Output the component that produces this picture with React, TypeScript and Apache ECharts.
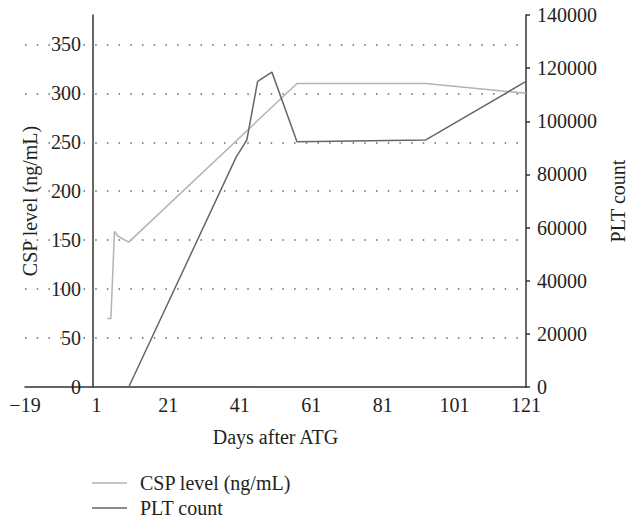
import React, { useEffect, useRef } from "react";
import * as echarts from "echarts";

const cspDays = [4, 5, 6, 7, 10, 57, 93, 121];
const cspValues = [70, 70, 159, 154, 148, 310, 310, 300];
const pltDays = [1, 10, 40, 43, 46, 50, 57, 93, 121];
const pltValues = [0, 0, 86500, 93000, 115000, 118500, 92300, 93000, 115000];
const cspGridLevels = [50, 100, 150, 200, 250, 300, 350];

const FONT = "'Liberation Serif', 'DejaVu Serif', serif";
const TEXT = "#231f20";

export default function App() {
  const ref = useRef<HTMLDivElement>(null);
  useEffect(() => {
    if (!ref.current) return;
    const chart = echarts.init(ref.current, undefined, { renderer: "svg" });
    chart.setOption({
      animation: false,
      backgroundColor: "#fff",
      textStyle: { fontFamily: FONT },
      grid: { left: 25, right: 104, top: 15, bottom: 135, containLabel: false, outerBoundsMode: "none" },
      legend: {
        orient: "vertical",
        left: 92,
        top: 473,
        padding: 0,
        icon: "rect",
        itemWidth: 35,
        itemHeight: 1.5,
        itemGap: 5,
        textStyle: { fontFamily: FONT, fontSize: 20, lineHeight: 20, color: TEXT, padding: [0, 0, 0, 8] },
        data: ["CSP level (ng/mL)", "PLT count"],
      },
      xAxis: {
        type: "value",
        min: -19,
        max: 121,
        interval: 20,
        name: "Days after ATG",
        nameLocation: "middle",
        nameGap: 40,
        nameTextStyle: { fontFamily: FONT, fontSize: 20, color: TEXT },
        axisLine: { onZero: true, lineStyle: { color: "#333", width: 1.5 } },
        axisTick: { show: false },
        splitLine: { show: false },
        axisLabel: {
          fontFamily: FONT,
          fontSize: 20,
          color: TEXT,
          margin: 8,
          formatter: (v: number) => (v < 0 ? "\u2212" + Math.abs(v) : String(v)),
        },
      },
      yAxis: [
        {
          type: "value",
          position: "left",
          offset: -68,
          min: 0,
          max: 380,
          interval: 50,
          name: "CSP level (ng/mL)",
          nameLocation: "middle",
          nameGap: 53,
          nameTextStyle: { fontFamily: FONT, fontSize: 20, color: TEXT },
          axisLine: { show: true, onZero: false, lineStyle: { color: "#333", width: 1.5 } },
          axisTick: { show: false },
          splitLine: { show: false },
          axisLabel: { fontFamily: FONT, fontSize: 20, color: TEXT, margin: 12, showMaxLabel: false },
        },
        {
          type: "value",
          position: "right",
          min: 0,
          max: 140000,
          interval: 20000,
          name: "PLT count",
          nameLocation: "middle",
          nameRotate: 90,
          nameGap: 82,
          nameTextStyle: { fontFamily: FONT, fontSize: 20, color: TEXT },
          axisLine: { show: true, onZero: false, lineStyle: { color: "#333", width: 1.5 } },
          axisTick: { show: true, length: 4, lineStyle: { color: "#333", width: 1.5 } },
          splitLine: { show: false },
          axisLabel: { fontFamily: FONT, fontSize: 20, color: TEXT, margin: 11, formatter: (v: number) => String(v) },
        },
      ],
      series: [
        {
          name: "CSP level (ng/mL)",
          type: "line",
          yAxisIndex: 0,
          symbol: "none",
          data: cspDays.map((d, i) => [d, cspValues[i]]),
          lineStyle: { color: "#b3b3b3", width: 1.5 },
          itemStyle: { color: "#b3b3b3" },
          z: 3,
          markLine: {
            silent: true,
            symbol: ["none", "none"],
            label: { show: false },
            lineStyle: { type: [1.5, 10.2], color: "#666", width: 1.5 },
            data: cspGridLevels.map((v) => ({ yAxis: v })),
            z: 1,
          },
        },
        {
          name: "PLT count",
          type: "line",
          yAxisIndex: 1,
          symbol: "none",
          data: pltDays.map((d, i) => [d, pltValues[i]]),
          lineStyle: { color: "#666666", width: 1.5 },
          itemStyle: { color: "#666666" },
          z: 4,
        },
      ],
    });
    return () => chart.dispose();
  }, []);
  return (
    <div
      ref={ref}
      style={{ position: "absolute", left: 0, top: 0, width: 630, height: 522 }}
    />
  );
}
